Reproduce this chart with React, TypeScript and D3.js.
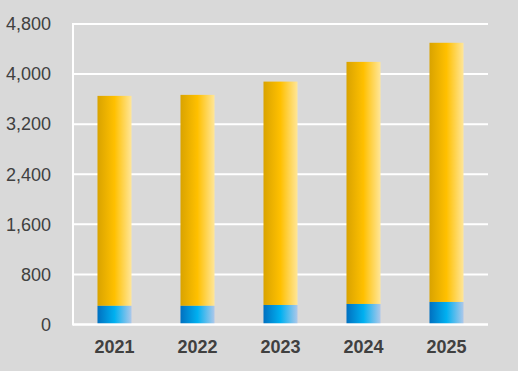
import React from "react";
import * as d3 from "d3";

const categories = ["2021", "2022", "2023", "2024", "2025"];
const blueValues = [298, 298, 312, 328, 360];
const totalValues = [3652, 3668, 3880, 4195, 4500];
const yTicks = [0, 800, 1600, 2400, 3200, 4000, 4800];

const W = 518;
const H = 371;
const left = 73;
const right = 488;
const top = 24;
const bottom = 324.5;

export default function App() {
  const x = d3.scaleBand<string>().domain(categories).range([left, right]).paddingInner(0.59).paddingOuter(0.295);
  const y = d3.scaleLinear().domain([0, 4800]).range([bottom, top]);
  const fmt = d3.format(",");
  const bw = x.bandwidth();
  return (
    <svg width={W} height={H} style={{ position: "absolute", left: 0, top: 0, display: "block" }}>
      <defs>
        <linearGradient id="gy" x1="0" x2="1" y1="0" y2="0">
          <stop offset="0" stopColor="#D9A300" />
          <stop offset="0.5" stopColor="#FFC000" />
          <stop offset="1" stopColor="#FFE699" />
        </linearGradient>
        <linearGradient id="gb" x1="0" x2="1" y1="0" y2="0">
          <stop offset="0" stopColor="#0070C0" />
          <stop offset="0.5" stopColor="#00B0F0" />
          <stop offset="1" stopColor="#ADC8EA" />
        </linearGradient>
      </defs>
      <rect x={0} y={0} width={W} height={H} fill="#D9D9D9" />
      {yTicks.map((t) => (
        <g key={t}>
          <line x1={left} x2={right} y1={y(t)} y2={y(t)} stroke="#FFFFFF" strokeWidth={2} />
          <text
            x={51}
            y={y(t)}
            dy="0.35em"
            textAnchor="end"
            fontFamily="'Liberation Sans', Arial, sans-serif"
            fontSize={18}
            fill="#404040"
          >
            {fmt(t)}
          </text>
        </g>
      ))}
      <line x1={left} x2={left} y1={top - 1} y2={bottom + 1} stroke="#FFFFFF" strokeWidth={2} />
      {categories.map((c, i) => {
        const x0 = x(c) as number;
        return (
          <g key={c}>
            <rect x={x0} y={y(totalValues[i])} width={bw} height={y(blueValues[i]) - y(totalValues[i])} fill="url(#gy)" />
            <rect x={x0} y={y(blueValues[i])} width={bw} height={y(0) - y(blueValues[i]) - 1} fill="url(#gb)" />
            <text
              x={x0 + bw / 2}
              y={353}
              textAnchor="middle"
              fontFamily="'Liberation Sans', Arial, sans-serif"
              fontSize={18}
              fontWeight="bold"
              fill="#404040"
            >
              {c}
            </text>
          </g>
        );
      })}
      <line x1={left} x2={right} y1={y(0)} y2={y(0)} stroke="#FFFFFF" strokeWidth={2} />
    </svg>
  );
}
